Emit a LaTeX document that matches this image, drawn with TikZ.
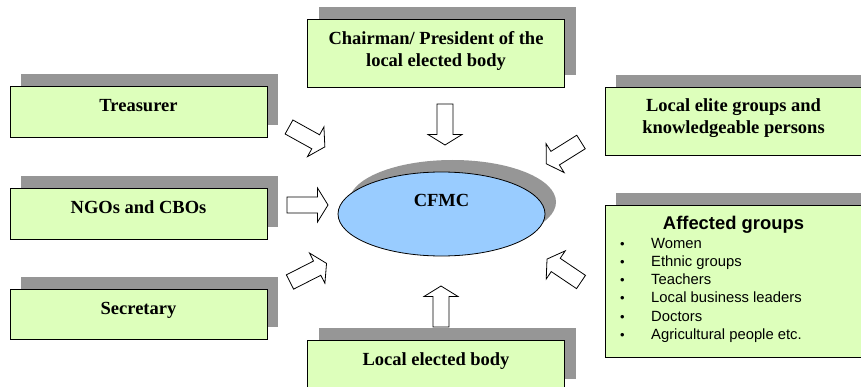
\documentclass[tikz,border=0pt]{standalone}
\usepackage{fontspec}
\setmainfont{Liberation Serif}
\setsansfont{Liberation Sans}
\usetikzlibrary{shapes.geometric,shadows}

\definecolor{boxgreen}{RGB}{221,255,187}
\definecolor{cfmcblue}{RGB}{153,204,255}
\definecolor{shadowgray}{RGB}{150,150,150}

\tikzset{
  member/.style={draw=black, line width=0.8pt, fill=boxgreen, minimum width=257pt, inner sep=0pt,
    drop shadow={shadow xshift=11pt, shadow yshift=12pt, fill=shadowgray, opacity=1}},
  boxtitle/.style={font=\rmfamily\fontsize{18.5}{21.5}\selectfont\bfseries, align=center, inner sep=0pt},
  listitem/.style={font=\sffamily\fontsize{14.8}{18}\selectfont, inner sep=0pt, anchor=base west},
  fatarrow/.pic={
    \draw[line width=0.8pt, fill=white, line join=miter]
      (0,-8) -- (30.5,-8) -- (30.5,-17) -- (41,0) -- (30.5,17) -- (30.5,8) -- (0,8) -- cycle;
  }
}

\begin{document}
\begin{tikzpicture}[x=1pt, y=-1pt] % one unit is one pixel of the reference
\useasboundingbox (0,0) rectangle (861,387);
\clip (0,0) rectangle (861,387);

% The committee in the middle
\node[ellipse, draw=black, line width=0.8pt, fill=cfmcblue, minimum width=207pt, minimum height=84pt, inner sep=0pt,
  drop shadow={shadow xshift=11pt, shadow yshift=12pt, fill=shadowgray, opacity=1}] (cfmc) at (441.5,214) {};
\node[boxtitle, anchor=base] (cfmctext) at ([yshift=7pt]cfmc.center) {CFMC};

% Left column
\node[member, minimum height=51pt] (treas) at (138.5,112) {};
\node[boxtitle, anchor=base] (treastext) at (treas.center) {Treasurer};

\node[member, minimum height=51pt] (ngos) at (138.5,213.5) {};
\node[boxtitle, anchor=base] (ngostext) at (ngos.center) {NGOs and CBOs};

\node[member, minimum height=50pt] (secr) at (138.5,314) {};
\node[boxtitle, anchor=base] (secrtext) at (secr.center) {Secretary};

% Top and bottom
\node[member, minimum height=68pt] (chair) at (436,53) {};
\node[boxtitle] (chairtext) at ([yshift=2pt]chair.center) {Chairman/ President of the\\local elected body};

\node[member, minimum height=51pt] (local) at (436,365.5) {};
\node[boxtitle, anchor=base] (localtext) at (local.center) {Local elected body};

% Right column
\node[member, minimum height=68pt] (elite) at (733.5,121) {};
\node[boxtitle] (elitetext) at ([yshift=3pt]elite.center) {Local elite groups and\\knowledgeable persons};

\node[member, minimum height=152pt] (affect) at (733.5,281) {};
\node[font=\sffamily\bfseries\fontsize{18.4}{21}\selectfont, inner sep=0pt, anchor=base] (affecttext)
  at ([yshift=-25pt]affect.north) {Affected groups};
\foreach \txt [count=\i] in {Women, Ethnic groups, Teachers, Local business leaders, Doctors, Agricultural people etc.}{
  \node[listitem, font=\sffamily\fontsize{13}{15}\selectfont, anchor=base] (dot\i) at (622.5,{248.3+18.2*(\i-1)}) {•};
  \node[listitem] (item\i) at (651,{248.3+18.2*(\i-1)}) {\txt};
}

% Block arrows towards the committee
\pic (treasarrow) [rotate=-29] at (289,127) {fatarrow};
\pic (ngosarrow) at (287,205) {fatarrow};
\pic (secrarrow) [rotate=27] at (290,282) {fatarrow};
\pic (chairarrow) [rotate=-90] at (445,104) {fatarrow};
\pic (localarrow) [rotate=90] at (441,327) {fatarrow};
\pic (elitearrow) [rotate=-148] at (581,142) {fatarrow};
\pic (affectarrow) [rotate=146] at (581,282) {fatarrow};

\end{tikzpicture}
\end{document}
